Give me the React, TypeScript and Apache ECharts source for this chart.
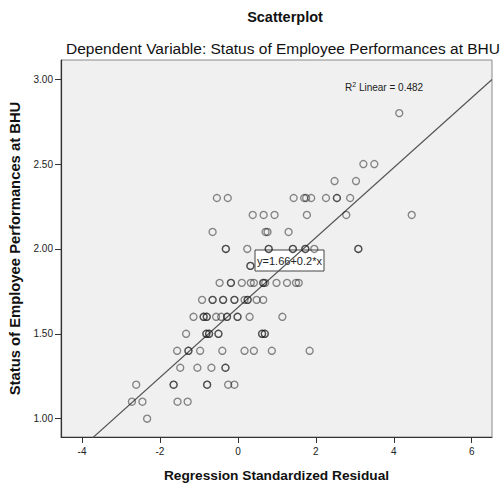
import React, { useEffect, useRef } from "react";
import * as echarts from "echarts";

// Performance levels (y) and the standardized residuals (x) observed at each level.
// Repeated values stand for overlapping cases (drawn darker in the reference).
const performanceLevels = [2.8, 2.5, 2.4, 2.3, 2.2, 2.1, 2.0, 1.9, 1.8, 1.7, 1.6, 1.5, 1.4, 1.3, 1.2, 1.1, 1.0];
const residualsByLevel: number[][] = [
  [4.14],
  [3.22, 3.5],
  [2.48, 3.03],
  [-0.54, -0.26, 1.43, 1.7, 1.75, 1.88, 2.26, 2.54, 2.54, 2.88],
  [0.38, 0.66, 0.94, 1.77, 2.78, 4.46],
  [-0.65, 0.71, 0.76, 1.3],
  [-0.31, -0.31, 0.24, 0.79, 0.79, 1.41, 1.41, 1.73, 1.73, 1.96, 3.09, 3.09],
  [0.32, 0.32],
  [-0.47, -0.18, -0.18, 0.1, 0.33, 0.41, 0.65, 0.65, 0.7, 0.99, 1.26, 1.49, 1.56],
  [-0.92, -0.65, -0.65, -0.38, -0.38, -0.09, -0.09, 0.17, 0.25, 0.25, 0.48, 0.65],
  [-1.14, -0.88, -0.88, -0.8, -0.8, -0.56, -0.43, -0.28, -0.28, -0.01, -0.01, 0.3, 1.14],
  [-1.33, -0.81, -0.81, -0.74, -0.74, -0.5, -0.5, 0.62, 0.62, 0.69, 0.69],
  [-1.56, -1.27, -1.27, -0.97, -0.4, 0.17, 0.41, 0.87, 1.84],
  [-1.48, -1.04, -0.68, -0.32, -0.32],
  [-2.61, -1.65, -1.65, -0.79, -0.79, -0.25, -0.09],
  [-2.72, -2.45, -1.55, -1.29],
  [-2.33],
];

const xTicks = [-4, -2, 0, 2, 4, 6];
const yTicks = [1.0, 1.5, 2.0, 2.5, 3.0];
const fitIntercept = 1.655;
const fitSlope = 0.206;
const rSquared = 0.482;

const X_MIN = -4.54;
const X_MAX = 6.52;
const Y_MIN = 0.892;
const Y_MAX = 3.113;

const FONT = '"Liberation Sans", Arial, sans-serif';

export default function App() {
  const ref = useRef<HTMLDivElement>(null);

  useEffect(() => {
    if (!ref.current) return;
    const chart = echarts.init(ref.current, undefined, { renderer: "svg" });

    const points: number[][] = [];
    performanceLevels.forEach((lvl, i) => {
      residualsByLevel[i].forEach((x) => points.push([x, lvl]));
    });

    const fitLine = [
      [X_MIN, fitIntercept + fitSlope * X_MIN],
      [X_MAX, fitIntercept + fitSlope * X_MAX],
    ];

    chart.setOption({
      animation: false,
      backgroundColor: "#ffffff",
      textStyle: { fontFamily: FONT },
      grid: {
        left: 61,
        right: 10,
        top: 60,
        bottom: 48,
        containLabel: false,
        outerBoundsMode: "none",
        show: true,
        backgroundColor: "#f0f0f0",
        borderColor: "#8a8a8a",
        borderWidth: 1,
      },
      xAxis: {
        type: "value",
        min: X_MIN,
        max: X_MAX,
        name: "Regression Standardized Residual",
        nameLocation: "middle",
        nameGap: 31,
        nameTextStyle: { fontFamily: FONT, fontSize: 13.7, fontWeight: "bold", color: "#111" },
        axisLine: { show: true, onZero: false, lineStyle: { color: "#333", width: 1.2 } },
        axisTick: { show: true, inside: false, length: 6, customValues: xTicks, lineStyle: { color: "#333" } },
        axisLabel: {
          customValues: xTicks,
          fontFamily: FONT,
          fontSize: 10,
          color: "#222",
          margin: 9,
          formatter: (v: number) => String(v),
        },
        splitLine: { show: false },
      },
      yAxis: {
        type: "value",
        min: Y_MIN,
        max: Y_MAX,
        name: "Status of Employee Performances at BHU",
        nameLocation: "middle",
        nameGap: 30,
        nameRotate: 90,
        nameTextStyle: { fontFamily: FONT, fontSize: 14.8, fontWeight: "bold", color: "#111" },
        axisLine: { show: true, onZero: false, lineStyle: { color: "#333", width: 1.2 } },
        axisTick: { show: true, inside: false, length: 6, customValues: yTicks, lineStyle: { color: "#333" } },
        axisLabel: {
          customValues: yTicks,
          fontFamily: FONT,
          fontSize: 10,
          color: "#222",
          margin: 8,
          formatter: (v: number) => v.toFixed(2),
        },
        splitLine: { show: false },
      },
      series: [
        {
          type: "line",
          data: fitLine,
          showSymbol: false,
          symbol: "none",
          silent: true,
          lineStyle: { color: "#555", width: 1.2 },
          z: 3,
        },
        {
          type: "scatter",
          data: points,
          symbol: "circle",
          symbolSize: 7,
          itemStyle: {
            color: "rgba(0,0,0,0)",
            borderColor: "rgba(20,20,20,0.62)",
            borderWidth: 1.35,
          },
          z: 4,
        },
      ],
      graphic: [
        {
          type: "text",
          x: 285,
          y: 17,
          style: {
            text: "Scatterplot",
            fontFamily: FONT,
            fontSize: 14.5,
            fontWeight: "bold",
            fill: "#111",
            align: "center",
            verticalAlign: "middle",
          },
        },
        {
          type: "text",
          x: 283,
          y: 48,
          style: {
            text: "Dependent Variable: Status of Employee Performances at BHU",
            fontFamily: FONT,
            fontSize: 15.5,
            fill: "#111",
            align: "center",
            verticalAlign: "middle",
          },
        },
        {
          type: "text",
          x: 345,
          y: 87,
          z: 10,
          style: {
            text: "{r|R}{s|2}{r| Linear = " + rSquared.toFixed(3) + "}",
            verticalAlign: "middle",
            rich: {
              r: { fontFamily: FONT, fontSize: 10, fill: "#222" },
              s: { fontFamily: FONT, fontSize: 7, fill: "#222", verticalAlign: "top", padding: [0, 0, 5, 0] },
            },
          },
        },
        {
          type: "group",
          x: 255,
          y: 250,
          z: 10,
          children: [
            {
              type: "rect",
              shape: { x: 0, y: 0, width: 69, height: 21 },
              style: { fill: "#ffffff", stroke: "#444", lineWidth: 1 },
            },
            {
              type: "text",
              x: 34.5,
              y: 10.5,
              style: {
                text: "y=" + fitIntercept.toFixed(2) + "+" + fitSlope.toFixed(1) + "*x",
                fontFamily: FONT,
                fontSize: 11,
                fill: "#222",
                align: "center",
                verticalAlign: "middle",
              },
            },
          ],
        },
      ],
    });

    return () => chart.dispose();
  }, []);

  return (
    <div
      ref={ref}
      style={{ position: "fixed", left: 0, top: 0, width: 502, height: 485 }}
    />
  );
}
